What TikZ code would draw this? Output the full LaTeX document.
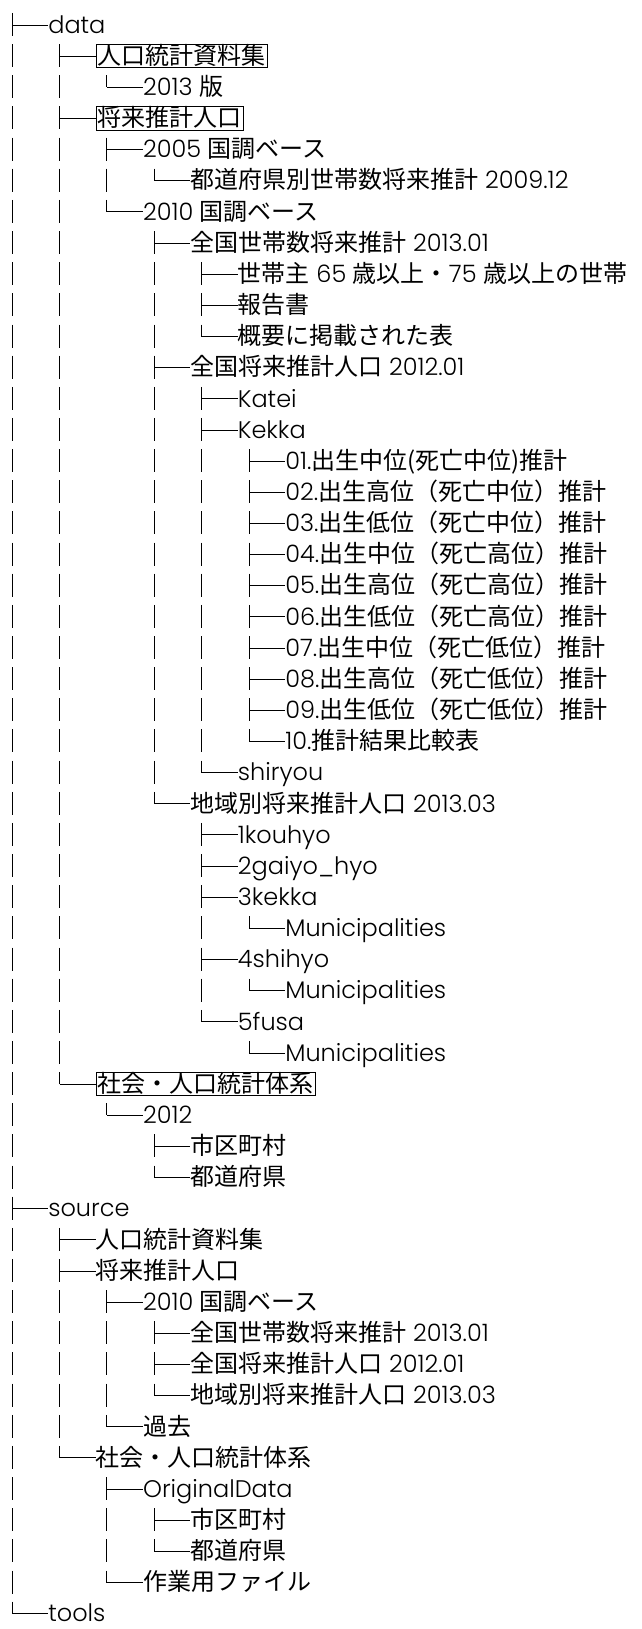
\documentclass[tikz,border=0pt]{standalone}
\usepackage{fontspec}
\setmainfont{Poppins}[UprightFont={* Light}]
\newfontfamily\cjk{Noto Sans CJK JP}
\tikzset{
  ent/.style={anchor=west, inner sep=0pt, text height=17.5pt, text depth=1pt,
              font=\fontsize{24}{28}\selectfont, text=black},
  boxed/.style={draw, line width=0.9pt, inner xsep=1.5pt, inner ysep=2.5pt},
  vl/.style={line width=0.9pt, dash pattern=on 23pt off 8.15pt},
  hl/.style={line width=0.9pt}
}
% #1 row, #2 level, #3 text, #4 extra style
\newcommand\ent[4]{\node[ent,#4] (n#1) at ({48.1+47.4*(#2)},{-25-31.15*(#1)}) {#3};}
% #1 parent row, #2 children level, #3 last child, #4 children
\newcommand\kids[4]{%
  \draw[vl] ({12.1+47.4*(#2)},{-25-31.15*(#1)-31.15+12}) -- ({12.1+47.4*(#2)},{-25-31.15*(#3)});
  \foreach \c in {#4}{\draw[hl] ({12.1+47.4*(#2)},{-25-31.15*\c}) -- (n\c.west);}
}
\begin{document}
\begin{tikzpicture}[x=1pt,y=1pt]
\useasboundingbox (0,0) rectangle (641,-1629);
\ent{0}{0}{data}{}
\ent{1}{1}{\cjk 人口統計資料集}{boxed}
\ent{2}{2}{2013 {\cjk 版}}{}
\ent{3}{1}{\cjk 将来推計人口}{boxed}
\ent{4}{2}{2005 {\cjk 国調ベース}}{}
\ent{5}{3}{{\cjk 都道府県別世帯数将来推計} 2009.12}{}
\ent{6}{2}{2010 {\cjk 国調ベース}}{}
\ent{7}{3}{{\cjk 全国世帯数将来推計} 2013.01}{}
\ent{8}{4}{{\cjk 世帯主} 65 {\cjk 歳以上・}75 {\cjk 歳以上の世帯}}{}
\ent{9}{4}{\cjk 報告書}{}
\ent{10}{4}{\cjk 概要に掲載された表}{}
\ent{11}{3}{{\cjk 全国将来推計人口} 2012.01}{}
\ent{12}{4}{Katei}{}
\ent{13}{4}{Kekka}{}
\ent{14}{5}{01.{\cjk 出生中位(死亡中位)推計}}{}
\ent{15}{5}{02.{\cjk 出生高位（死亡中位）推計}}{}
\ent{16}{5}{03.{\cjk 出生低位（死亡中位）推計}}{}
\ent{17}{5}{04.{\cjk 出生中位（死亡高位）推計}}{}
\ent{18}{5}{05.{\cjk 出生高位（死亡高位）推計}}{}
\ent{19}{5}{06.{\cjk 出生低位（死亡高位）推計}}{}
\ent{20}{5}{07.{\cjk 出生中位（死亡低位）推計}}{}
\ent{21}{5}{08.{\cjk 出生高位（死亡低位）推計}}{}
\ent{22}{5}{09.{\cjk 出生低位（死亡低位）推計}}{}
\ent{23}{5}{10.{\cjk 推計結果比較表}}{}
\ent{24}{4}{shiryou}{}
\ent{25}{3}{{\cjk 地域別将来推計人口} 2013.03}{}
\ent{26}{4}{1kouhyo}{}
\ent{27}{4}{2gaiyo\_hyo}{}
\ent{28}{4}{3kekka}{}
\ent{29}{5}{Municipalities}{}
\ent{30}{4}{4shihyo}{}
\ent{31}{5}{Municipalities}{}
\ent{32}{4}{5fusa}{}
\ent{33}{5}{Municipalities}{}
\ent{34}{1}{\cjk 社会・人口統計体系}{boxed}
\ent{35}{2}{2012}{}
\ent{36}{3}{\cjk 市区町村}{}
\ent{37}{3}{\cjk 都道府県}{}
\ent{38}{0}{source}{}
\ent{39}{1}{\cjk 人口統計資料集}{}
\ent{40}{1}{\cjk 将来推計人口}{}
\ent{41}{2}{2010 {\cjk 国調ベース}}{}
\ent{42}{3}{{\cjk 全国世帯数将来推計} 2013.01}{}
\ent{43}{3}{{\cjk 全国将来推計人口} 2012.01}{}
\ent{44}{3}{{\cjk 地域別将来推計人口} 2013.03}{}
\ent{45}{2}{\cjk 過去}{}
\ent{46}{1}{\cjk 社会・人口統計体系}{}
\ent{47}{2}{OriginalData}{}
\ent{48}{3}{\cjk 市区町村}{}
\ent{49}{3}{\cjk 都道府県}{}
\ent{50}{2}{\cjk 作業用ファイル}{}
\ent{51}{0}{tools}{}
% root column
\coordinate (root) at (12.1,-13);
\draw[vl] (root) -- (12.1,{-25-31.15*51});
\foreach \c in {0,38,51}{\draw[hl] (12.1,{-25-31.15*\c}) -- (n\c.west);}
\kids{0}{1}{34}{1,3,34}
\kids{1}{2}{2}{2}
\kids{3}{2}{6}{4,6}
\kids{4}{3}{5}{5}
\kids{6}{3}{25}{7,11,25}
\kids{7}{4}{10}{8,9,10}
\kids{11}{4}{24}{12,13,24}
\kids{13}{5}{23}{14,15,16,17,18,19,20,21,22,23}
\kids{25}{4}{32}{26,27,28,30,32}
\kids{28}{5}{29}{29}
\kids{30}{5}{31}{31}
\kids{32}{5}{33}{33}
\kids{34}{2}{35}{35}
\kids{35}{3}{37}{36,37}
\kids{38}{1}{46}{39,40,46}
\kids{40}{2}{45}{41,45}
\kids{41}{3}{44}{42,43,44}
\kids{46}{2}{50}{47,50}
\kids{47}{3}{49}{48,49}
\end{tikzpicture}
\end{document}
